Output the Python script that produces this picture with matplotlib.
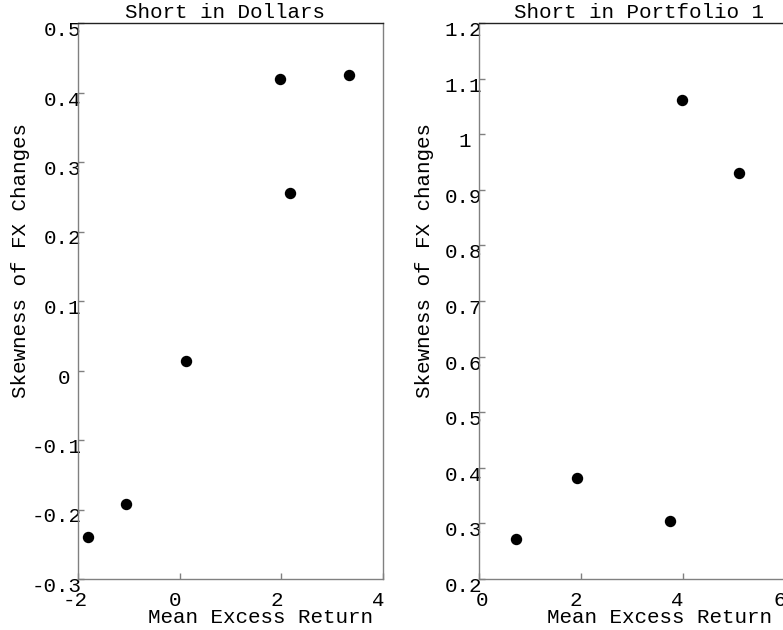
import matplotlib
matplotlib.use('Agg')
import matplotlib.pyplot as plt
from matplotlib.transforms import ScaledTranslation

# ---------------- data ----------------
dollar_return = [-1.80, -1.06, 0.12, 1.97, 2.18, 3.33]
dollar_skew = [-0.239, -0.192, 0.014, 0.419, 0.256, 0.425]

p1_return = [0.745, 1.93, 3.76, 3.99, 5.11]
p1_skew = [0.272, 0.382, 0.304, 1.062, 0.931]

left_xticks = [-2, 0, 2, 4]
left_xlabels = ['-2', '0', '2', '4']
left_yticks = [-0.3, -0.2, -0.1, 0.0, 0.1, 0.2, 0.3, 0.4, 0.5]
left_ylabels = ['-0.3', '-0.2', '-0.1', '0', '0.1', '0.2', '0.3', '0.4', '0.5']

right_xticks = [0, 2, 4, 6]
right_xlabels = ['0', '2', '4', '6']
right_yticks = [0.2, 0.3, 0.4, 0.5, 0.6, 0.7, 0.8, 0.9, 1.0, 1.1, 1.2]
right_ylabels = ['0.2', '0.3', '0.4', '0.5', '0.6', '0.7', '0.8', '0.9', '1', '1.1', '1.2']

titles = ['Short in Dollars', 'Short in Portfolio 1']
xlabel_text = 'Mean Excess Return'
ylabel_texts = ['Skewness of FX Changes', 'Skewness of FX changes']

# ---------------- style ----------------
plt.rcParams['font.family'] = ['Liberation Mono', 'DejaVu Sans Mono']
FS = 15
GRAY = '#808080'
W, H = 783, 630

fig = plt.figure(figsize=(W / 100, H / 100), dpi=100)
axL = fig.add_axes([78 / W, 51 / H, 305 / W, 556 / H])
axR = fig.add_axes([478.5 / W, 51 / H, 306 / W, 556 / H])


def setup(ax, xs, ys, xlim, ylim, xt, xl, yt, yl, title, title_x,
          xlab_x, ylab, ylab_x):
    ax.plot(xs, ys, 'o', color='black', ms=7.2, clip_on=False)
    ax.set_xlim(*xlim)
    ax.set_ylim(*ylim)
    ax.set_xticks(xt)
    ax.set_xticklabels(xl)
    ax.set_yticks(yt)
    ax.set_yticklabels(yl)
    ax.tick_params(direction='in', length=4, width=1, color=GRAY, pad=0,
                   labelsize=FS, labelcolor='black', top=False, right=False)
    for s in ['left', 'bottom', 'right']:
        ax.spines[s].set_color(GRAY)
        ax.spines[s].set_linewidth(1)
    ax.spines['top'].set_color('#222222')
    ax.spines['top'].set_linewidth(1)
    ax.set_title(title, fontsize=FS, x=title_x, pad=3.6)
    ax.set_xlabel(xlabel_text, fontsize=FS)
    ax.xaxis.label.set_va('baseline')
    ax.xaxis.set_label_coords(xlab_x, -0.0797)
    ax.set_ylabel(ylab, fontsize=FS)
    ax.yaxis.label.set_va('baseline')
    ax.yaxis.set_label_coords(ylab_x, 0.572)


setup(axL, dollar_return, dollar_skew, (-2, 4), (-0.3, 0.5),
      left_xticks, left_xlabels, left_yticks, left_ylabels,
      titles[0], 0.482, 0.597, ylabel_texts[0], -0.170)
setup(axR, p1_return, p1_skew, (0, 6), (0.2, 1.2),
      right_xticks, right_xlabels, right_yticks, right_ylabels,
      titles[1], 0.526, 0.593, ylabel_texts[1], -0.158)

fig.canvas.draw()


def shift(lab, dx, dy):
    lab.set_transform(lab.get_transform() +
                      ScaledTranslation(dx / 100, dy / 100, fig.dpi_scale_trans))


for ax, first_dx in [(axL, -3), (axR, 3.5)]:
    for i, t in enumerate(ax.yaxis.get_major_ticks()):
        lab = t.label1
        lab.set_va('baseline')
        if len(lab.get_text()) == 1:
            lab.set_ha('center')
            shift(lab, -14, -13)
        else:
            lab.set_ha('right')
            shift(lab, 3.5, -13)
    for i, t in enumerate(ax.xaxis.get_major_ticks()):
        lab = t.label1
        lab.set_va('baseline')
        lab.set_ha('center')
        shift(lab, first_dx if i == 0 else -5, -26.7)

fig.savefig('out.png', dpi=100)
